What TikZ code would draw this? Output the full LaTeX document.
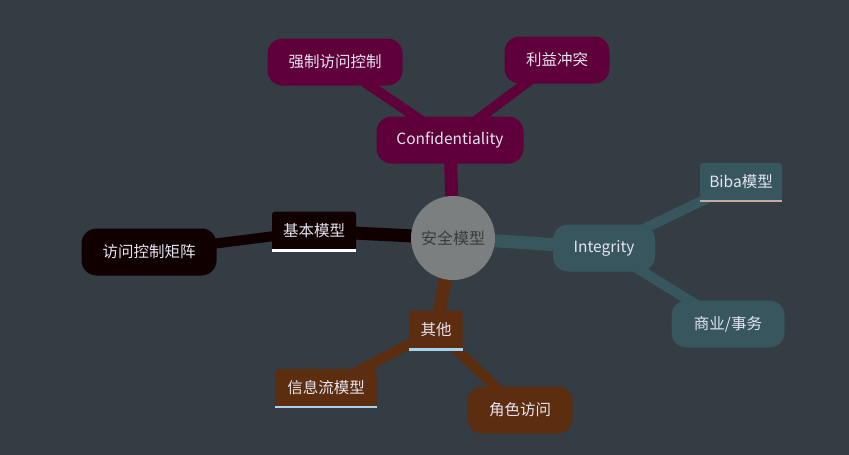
\documentclass[tikz,border=0pt]{standalone}
\usepackage{fontspec}
\setmainfont{Noto Sans CJK SC}
\usetikzlibrary{positioning}
\definecolor{slatebg}{HTML}{343C44}
\definecolor{hubgray}{HTML}{7B7F7F}
\definecolor{hubtext}{HTML}{3C3C3C}
\definecolor{plumcolor}{HTML}{5F003B}
\definecolor{tealcolor}{HTML}{37565E}
\definecolor{rustcolor}{HTML}{5C2D0E}
\definecolor{inkcolor}{HTML}{110000}
\definecolor{labelcolor}{HTML}{E4E4F2}
\definecolor{sandline}{HTML}{C8AAA2}
\definecolor{skyline}{HTML}{A6D4F0}
\pgfdeclarelayer{canvas}
\pgfdeclarelayer{links}
\pgfsetlayers{canvas,links,main}

\begin{document}
\begin{tikzpicture}[x=1pt, y=-1pt,
    hub/.style={circle, fill=hubgray, minimum size=84pt, inner sep=0pt,
                text=hubtext, font=\fontsize{16}{19}\selectfont},
    pill/.style={fill=#1, rounded corners=15pt, minimum height=47pt, inner sep=0pt,
                 text=labelcolor, font=\fontsize{15.5}{19}\selectfont},
    tag/.style={fill=#1, rounded corners=3pt, minimum height=39pt, inner sep=0pt,
                text=labelcolor, font=\fontsize{15.5}{19}\selectfont},
    trunk/.style={draw=#1, line width=13pt},
    twig/.style={draw=#1, line width=10pt},
    mark line/.style={draw=#1, line width=2.5pt}]
  \useasboundingbox (0,0) rectangle (849,455);
  \begin{pgfonlayer}{canvas}
    \fill[slatebg] (0,0) rectangle (849,455);
  \end{pgfonlayer}

  % centre
  \node[hub] (core) at (453,238) {安全模型};

  % confidentiality branch
  \node[pill=plumcolor, minimum width=147pt] (conf) at (450,140) {Confidentiality};
  \node[pill=plumcolor, minimum width=135pt] (mac) at (335,62) {强制访问控制};
  \node[pill=plumcolor, minimum width=105pt] (coi) at (557,60) {利益冲突};

  % basic branch
  \node[tag=inkcolor, minimum width=84pt] (basic) at (314,231) {基本模型};
  \node[pill=inkcolor, minimum width=135pt] (matrix) at (149,252) {访问控制矩阵};

  % integrity branch
  \node[pill=tealcolor, minimum width=102pt] (integ) at (604,248) {Integrity};
  \node[tag=tealcolor, minimum width=82pt, minimum height=38pt] (biba) at (741,182) {Biba模型};
  \node[pill=tealcolor, minimum width=113pt] (trade) at (728,324) {商业/事务};

  % other branch
  \node[tag=rustcolor, minimum width=53pt] (other) at (436,330) {其他};
  \node[tag=rustcolor, minimum width=101pt, minimum height=38pt] (flow) at (326,388) {信息流模型};
  \node[pill=rustcolor, minimum width=105pt] (role) at (520,410) {角色访问};

  % underlines
  \draw[mark line=white] (basic.south west) -- (basic.south east);
  \draw[mark line=sandline] (biba.south west) -- (biba.south east);
  \draw[mark line=skyline] (other.south west) -- (other.south east);
  \draw[mark line=skyline] (flow.south west) -- (flow.south east);

  \begin{pgfonlayer}{links}
    \draw[trunk=plumcolor] (core.center) -- (conf.center);
    \draw[trunk=inkcolor] (core.center) -- (basic.center);
    \draw[trunk=tealcolor] (core.center) -- (integ.center);
    \draw[trunk=rustcolor] (core.center) -- (other.center);
    \draw[twig=plumcolor] (conf.center) -- (mac.center);
    \draw[twig=plumcolor] (conf.center) -- (coi.center);
    \draw[twig=inkcolor] (basic.center) -- (matrix.center);
    \draw[twig=tealcolor] (integ.center) -- (biba.center);
    \draw[twig=tealcolor] (integ.center) -- (trade.center);
    \draw[twig=rustcolor] (other.center) -- (flow.center);
    \draw[twig=rustcolor] (other.center) -- (role.center);
  \end{pgfonlayer}
\end{tikzpicture}
\end{document}
